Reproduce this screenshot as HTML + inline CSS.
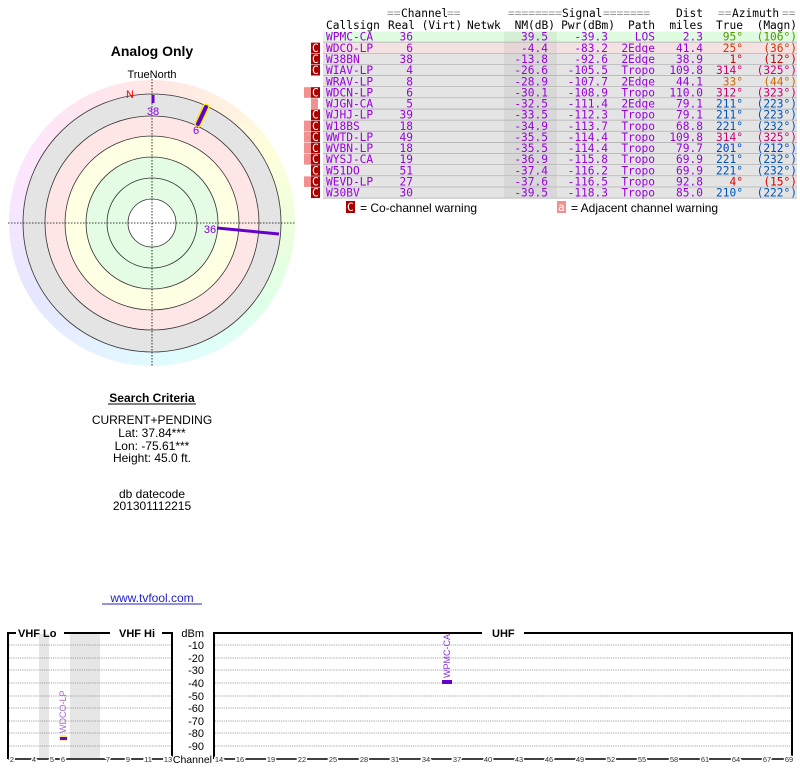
<!DOCTYPE html>
<html><head><meta charset="utf-8"><style>
html,body{margin:0;padding:0;background:#fff;width:800px;height:768px;overflow:hidden;position:relative}
#ring{position:absolute;left:9px;top:80px;width:286px;height:286px;border-radius:50%;
background:conic-gradient(hsl(0,100%,95%),hsl(30,100%,94%),hsl(60,100%,93%),hsl(90,100%,93%),hsl(130,100%,94%),hsl(165,100%,94%),hsl(190,100%,94%),hsl(215,100%,95%),hsl(240,100%,95%),hsl(275,100%,95%),hsl(305,100%,95%),hsl(335,100%,95%),hsl(360,100%,95%))}
svg{position:absolute;left:0;top:0}
.m{font-family:"DejaVu Sans Mono","Liberation Mono",monospace;font-size:11.2px}
.s{font-family:"Liberation Sans",sans-serif}
</style></head><body>
<div id="ring"></div>
<svg width="800" height="768" viewBox="0 0 800 768">
<text x="152" y="56" class="s" font-size="14" font-weight="bold" text-anchor="middle">Analog Only</text>
<text x="152" y="78" class="s" font-size="11" text-anchor="middle">TrueNorth</text>
<circle cx="152" cy="223" r="129" fill="#e4e4e4" stroke="#333" stroke-width="0.8"/>
<circle cx="152" cy="223" r="107" fill="#ffe6e6" stroke="#333" stroke-width="0.8"/>
<circle cx="152" cy="223" r="87" fill="#ffffe4" stroke="#333" stroke-width="0.8"/>
<circle cx="152" cy="223" r="66" fill="#e4fbe4" stroke="#333" stroke-width="0.8"/>
<circle cx="152" cy="223" r="45" fill="#e4fbe4" stroke="#333" stroke-width="0.8"/>
<circle cx="152" cy="223" r="24" fill="#fff" stroke="#333" stroke-width="0.8"/>
<line x1="8" y1="223" x2="296" y2="223" stroke="#000" stroke-width="0.8" stroke-dasharray="1.5,1.5"/>
<line x1="152" y1="79" x2="152" y2="367" stroke="#000" stroke-width="0.8" stroke-dasharray="1.5,1.5"/>
<text x="130" y="98" class="s" font-size="11" fill="#f00" text-anchor="middle">N</text>
<line x1="153" y1="95" x2="153" y2="103" stroke="#6600cc" stroke-width="3"/>
<text x="153" y="115" class="s" font-size="11" fill="#8800dd" text-anchor="middle">38</text>
<line x1="198" y1="124" x2="206" y2="107" stroke="#ee0" stroke-width="7" stroke-linecap="round"/>
<line x1="198" y1="124" x2="206" y2="107" stroke="#6600cc" stroke-width="4" stroke-linecap="round"/>
<text x="196" y="134" class="s" font-size="11" fill="#8800dd" text-anchor="middle">6</text>
<line x1="217" y1="228" x2="279" y2="234" stroke="#6600cc" stroke-width="3"/>
<text x="210" y="233" class="s" font-size="11" fill="#8800dd" text-anchor="middle">36</text>
<text x="152" y="402" class="s" font-size="12" font-weight="bold" text-anchor="middle">Search Criteria</text>
<line x1="108" y1="404" x2="196" y2="404" stroke="#000"/>
<g class="s" font-size="12" text-anchor="middle">
<text x="152" y="424">CURRENT+PENDING</text>
<text x="152" y="437">Lat: 37.84***</text>
<text x="152" y="450">Lon: -75.61***</text>
<text x="152" y="462">Height: 45.0 ft.</text>
<text x="152" y="498">db datecode</text>
<text x="152" y="510">201301112215</text>
<text x="152" y="602" fill="#2222cc">www.tvfool.com</text>
</g>
<line x1="102" y1="604" x2="202" y2="604" stroke="#2222cc"/>
<g class="m">
<text x="387" y="17" fill="#999">==</text><text x="401" y="17">Channel</text><text x="447" y="17" fill="#999">==</text>
<text x="508" y="17" fill="#999">========</text><text x="562" y="17">Signal</text><text x="603" y="17" fill="#999">=======</text>
<text x="703" y="17" text-anchor="end">Dist</text>
<text x="718" y="17" fill="#999">==</text><text x="732" y="17">Azimuth</text><text x="782" y="17" fill="#999">==</text>
<text x="326" y="29">Callsign</text><text x="388" y="29">Real (Virt)</text><text x="467" y="29">Netwk</text>
<text x="555" y="29" text-anchor="end">NM(dB)</text><text x="615" y="29" text-anchor="end">Pwr(dBm)</text>
<text x="655" y="29" text-anchor="end">Path</text><text x="703" y="29" text-anchor="end">miles</text>
<text x="743" y="29" text-anchor="end">True</text><text x="797" y="29" text-anchor="end">(Magn)</text>
</g>
<g id="rows"></g>
<rect x="346" y="201" width="9" height="12" fill="#aa0000"/><text x="347" y="211" class="m" font-size="10" fill="#fff">C</text>
<text x="360" y="212" class="s" font-size="12">= Co-channel warning</text>
<rect x="557" y="201" width="9" height="12" fill="#f29090"/><text x="558" y="211" class="m" font-size="10" fill="#fff">a</text>
<text x="571" y="212" class="s" font-size="12">= Adjacent channel warning</text>
<rect x="39" y="634" width="10" height="124" fill="#e6e6e6"/>
<rect x="70" y="634" width="30" height="124" fill="#e6e6e6"/>
<g stroke="#888" stroke-width="0.8" stroke-dasharray="1.2,1">
<line x1="9" y1="645" x2="171" y2="645"/><line x1="9" y1="658" x2="171" y2="658"/><line x1="9" y1="670" x2="171" y2="670"/><line x1="9" y1="683" x2="171" y2="683"/><line x1="9" y1="696" x2="171" y2="696"/><line x1="9" y1="708" x2="171" y2="708"/><line x1="9" y1="721" x2="171" y2="721"/><line x1="9" y1="733" x2="171" y2="733"/><line x1="9" y1="746" x2="171" y2="746"/>
<line x1="215" y1="645" x2="791" y2="645"/><line x1="215" y1="658" x2="791" y2="658"/><line x1="215" y1="670" x2="791" y2="670"/><line x1="215" y1="683" x2="791" y2="683"/><line x1="215" y1="696" x2="791" y2="696"/><line x1="215" y1="708" x2="791" y2="708"/><line x1="215" y1="721" x2="791" y2="721"/><line x1="215" y1="733" x2="791" y2="733"/><line x1="215" y1="746" x2="791" y2="746"/>
</g>
<g fill="none" stroke="#000" stroke-width="2">
<polyline points="8,759 8,633 16,633"/><line x1="64" y1="633" x2="110" y2="633"/><polyline points="162,633 172,633 172,759"/>
<polyline points="214,759 214,633 482,633"/><polyline points="524,633 792,633 792,759"/>
</g>
<line x1="8" y1="759" x2="172" y2="759" stroke="#000" stroke-width="1.5"/>
<line x1="214" y1="759" x2="792" y2="759" stroke="#000" stroke-width="1.5"/>
<g class="s" font-size="11" font-weight="bold">
<text x="18" y="637">VHF Lo</text><text x="119" y="637">VHF Hi</text><text x="492" y="637">UHF</text>
</g>
<g class="s" font-size="11" text-anchor="end">
<text x="204" y="637">dBm</text>
<text x="204" y="649">-10</text><text x="204" y="662">-20</text><text x="204" y="674">-30</text><text x="204" y="687">-40</text><text x="204" y="700">-50</text><text x="204" y="712">-60</text><text x="204" y="725">-70</text><text x="204" y="737">-80</text><text x="204" y="750">-90</text>
<text x="212" y="763" font-size="10.5">Channel</text>
</g>
<g class="s" font-size="7.5" text-anchor="middle" fill="#333" stroke="#fff" stroke-width="3" paint-order="stroke">
<text x="12" y="762">2</text><text x="34" y="762">4</text><text x="52" y="762">5</text><text x="63" y="762">6</text><text x="108" y="762">7</text><text x="128" y="762">9</text><text x="148" y="762">11</text><text x="168" y="762">13</text>
<text x="219" y="762">14</text><text x="240" y="762">16</text><text x="271" y="762">19</text><text x="302" y="762">22</text><text x="333" y="762">25</text><text x="364" y="762">28</text><text x="395" y="762">31</text><text x="426" y="762">34</text><text x="457" y="762">37</text><text x="488" y="762">40</text><text x="519" y="762">43</text><text x="549" y="762">46</text><text x="580" y="762">49</text><text x="611" y="762">52</text><text x="642" y="762">55</text><text x="674" y="762">58</text><text x="705" y="762">61</text><text x="736" y="762">64</text><text x="767" y="762">67</text><text x="789" y="762">69</text>
</g>
<rect x="59" y="735" width="9" height="6" rx="3" fill="#ee8"/>
<rect x="60" y="737" width="7" height="3" fill="#7700cc"/>
<text transform="translate(66,733) rotate(-90)" class="s" font-size="9" fill="#aa66dd">WDCO-LP</text>
<rect x="442" y="680" width="10" height="4" fill="#6600cc"/>
<text transform="translate(450,678) rotate(-90)" class="s" font-size="9" fill="#8833dd">WPMC-CA</text>
</svg>
<script>
var R=[
["WPMC-CA","36","39.5","-39.3","LOS","2.3","95°","(106°)","#559900","","#e0fce0"],
["WDCO-LP","6","-4.4","-83.2","2Edge","41.4","25°","(36°)","#cc3300","C","#f4e2e2"],
["W38BN","38","-13.8","-92.6","2Edge","38.9","1°","(12°)","#cc0000","C"],
["WIAV-LP","4","-26.6","-105.5","Tropo","109.8","314°","(325°)","#cc0077","C"],
["WRAV-LP","8","-28.9","-107.7","2Edge","44.1","33°","(44°)","#cc6600",""],
["WDCN-LP","6","-30.1","-108.9","Tropo","110.0","312°","(323°)","#cc0077","aC"],
["WJGN-CA","5","-32.5","-111.4","2Edge","79.1","211°","(223°)","#0055bb","a"],
["WJHJ-LP","39","-33.5","-112.3","Tropo","79.1","211°","(223°)","#0055bb","C"],
["W18BS","18","-34.9","-113.7","Tropo","68.8","221°","(232°)","#0055bb","aC"],
["WWTD-LP","49","-35.5","-114.4","Tropo","109.8","314°","(325°)","#cc0077","aC"],
["WVBN-LP","18","-35.5","-114.4","Tropo","79.7","201°","(212°)","#0044cc","aC"],
["WYSJ-CA","19","-36.9","-115.8","Tropo","69.9","221°","(232°)","#0055bb","aC"],
["W51DO","51","-37.4","-116.2","Tropo","69.9","221°","(232°)","#0055bb","C"],
["WEVD-LP","27","-37.6","-116.5","Tropo","92.8","4°","(15°)","#dd0000","aC"],
["W30BV","30","-39.5","-118.3","Tropo","85.0","210°","(222°)","#0055bb","C"]];
var h="";
R.forEach(function(r,i){var y=31.5+i*11.14,b=y+9.2;
h+='<rect x="323" y="'+y+'" width="474" height="10.4" fill="'+(r[10]||"#e4e4e4")+'"/>';
h+='<rect x="504" y="'+y+'" width="53" height="10.4" fill="rgba(0,0,0,0.05)"/>';
h+='<line x1="323" x2="797" y1="'+(y+10.7)+'" y2="'+(y+10.7)+'" stroke="#aaa" stroke-width="0.8"/>';
if(r[9].indexOf("C")>=0)h+='<rect x="311" y="'+y+'" width="9" height="10.6" fill="#aa0000"/><text class="m" font-size="10" x="312" y="'+b+'" fill="#fff">C</text>';
if(r[9].indexOf("a")>=0)h+='<rect x="'+(r[9]=="a"?311:304)+'" y="'+y+'" width="7" height="10.6" fill="#f29090"/>';
var p='class="m" y="'+b+'" fill="#9900dd"';
h+='<text '+p+' x="326">'+r[0]+'</text><text '+p+' x="413" text-anchor="end">'+r[1]+'</text><text '+p+' x="548" text-anchor="end">'+r[2]+'</text><text '+p+' x="608" text-anchor="end">'+r[3]+'</text><text '+p+' x="655" text-anchor="end">'+r[4]+'</text><text '+p+' x="703" text-anchor="end">'+r[5]+'</text>';
h+='<text class="m" y="'+b+'" fill="'+r[8]+'" x="743" text-anchor="end">'+r[6]+'</text><text class="m" y="'+b+'" fill="'+r[8]+'" x="797" text-anchor="end">'+r[7]+'</text>';});
document.getElementById("rows").innerHTML=h;
</script>
</body></html>
